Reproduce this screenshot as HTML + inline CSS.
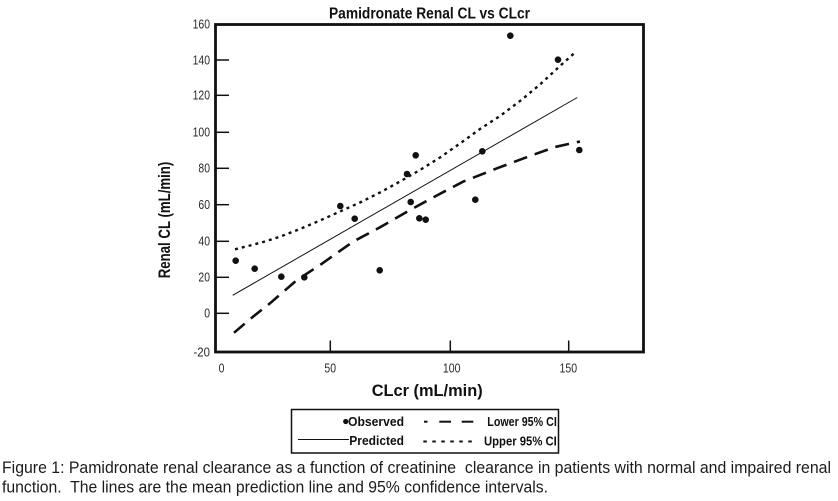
<!DOCTYPE html>
<html>
<head>
<meta charset="utf-8">
<style>
  html, body { margin:0; padding:0; background:#fff; }
  body { width:838px; height:501px; overflow:hidden; }
  svg { display:block; }
  text { font-family: "Liberation Sans", Arial, sans-serif; }
</style>
</head>
<body>
<svg width="838" height="501" viewBox="0 0 838 501" xmlns="http://www.w3.org/2000/svg">
  <rect x="0" y="0" width="838" height="501" fill="#fff"/>

  <!-- Title -->
  <text x="329" y="18.5" font-size="16" font-weight="bold" fill="#111" textLength="201" lengthAdjust="spacingAndGlyphs">Pamidronate Renal CL vs CLcr</text>

  <!-- Frame -->
  <rect x="215.5" y="24.5" width="428" height="327.5" fill="none" stroke="#111" stroke-width="2.8"/>

  <!-- Y ticks -->
  <g stroke="#111" stroke-width="1.5">
    <line x1="215" y1="24.5" x2="229" y2="24.5"/>
    <line x1="215" y1="60" x2="229" y2="60"/>
    <line x1="215" y1="95.3" x2="229" y2="95.3"/>
    <line x1="215" y1="132.3" x2="229" y2="132.3"/>
    <line x1="215" y1="168.3" x2="229" y2="168.3"/>
    <line x1="215" y1="204.7" x2="229" y2="204.7"/>
    <line x1="215" y1="241.3" x2="229" y2="241.3"/>
    <line x1="215" y1="277.3" x2="229" y2="277.3"/>
    <line x1="215" y1="313.3" x2="229" y2="313.3"/>
  </g>
  <!-- X ticks -->
  <g stroke="#111" stroke-width="1.5">
    <line x1="330.3" y1="340.5" x2="330.3" y2="352"/>
    <line x1="450.3" y1="340.5" x2="450.3" y2="352"/>
    <line x1="568.7" y1="340.5" x2="568.7" y2="352"/>
  </g>

  <!-- Y tick labels -->
  <g font-size="12.5" fill="#2a2a2a" text-anchor="end">
    <text x="210" y="28.6" textLength="17.4" lengthAdjust="spacingAndGlyphs">160</text>
    <text x="210" y="64.3" textLength="17.4" lengthAdjust="spacingAndGlyphs">140</text>
    <text x="210" y="99.6" textLength="17.4" lengthAdjust="spacingAndGlyphs">120</text>
    <text x="210" y="136.6" textLength="17.4" lengthAdjust="spacingAndGlyphs">100</text>
    <text x="210" y="172.6" textLength="11.6" lengthAdjust="spacingAndGlyphs">80</text>
    <text x="210" y="209" textLength="11.6" lengthAdjust="spacingAndGlyphs">60</text>
    <text x="210" y="245.6" textLength="11.6" lengthAdjust="spacingAndGlyphs">40</text>
    <text x="210" y="281.6" textLength="11.6" lengthAdjust="spacingAndGlyphs">20</text>
    <text x="210" y="317.6" textLength="5.8" lengthAdjust="spacingAndGlyphs">0</text>
    <text x="210" y="356.5" textLength="16.5" lengthAdjust="spacingAndGlyphs">-20</text>
  </g>

  <!-- X tick labels -->
  <g font-size="12.5" fill="#2a2a2a" text-anchor="middle">
    <text x="221.5" y="372.7" textLength="5.8" lengthAdjust="spacingAndGlyphs">0</text>
    <text x="330.2" y="372.7" textLength="11.6" lengthAdjust="spacingAndGlyphs">50</text>
    <text x="451.7" y="372.7" textLength="17.6" lengthAdjust="spacingAndGlyphs">100</text>
    <text x="568.3" y="372.7" textLength="17.6" lengthAdjust="spacingAndGlyphs">150</text>
  </g>

  <!-- Axis labels -->
  <text x="371.7" y="396" font-size="17" font-weight="bold" fill="#111" textLength="111" lengthAdjust="spacingAndGlyphs">CLcr (mL/min)</text>
  <text transform="translate(170,278.3) rotate(-90)" x="0" y="0" font-size="16.5" font-weight="bold" fill="#111" textLength="116.6" lengthAdjust="spacingAndGlyphs">Renal CL (mL/min)</text>

  <!-- Predicted line -->
  <line x1="232.7" y1="295.3" x2="577.3" y2="97.5" stroke="#111" stroke-width="1"/>

  <!-- Upper 95% CI (dotted) -->
  <polyline fill="none" stroke="#111" stroke-width="2.4" stroke-dasharray="3 4"
    points="235,249.3 250,245.5 265,241.5 280,236.7 300,229 320,220.5 340,211.5 360,202.5 380,192.5 400,181.5 420,170 440,157.5 460,143.5 480,129 500,116 520,101 540,84.5 560,66 575,52.5"/>

  <!-- Lower 95% CI (dashed) -->
  <polyline fill="none" stroke="#111" stroke-width="2.6" stroke-dasharray="14 8"
    points="234,332.7 253,316.7 270,303.3 297,280 320,265 353,241.7 380,227.3 407,211.7 433,197.5 463,181.7 497,168.3 530,156 555,147 580,141.5"/>

  <!-- Observed points -->
  <g fill="#111">
    <circle cx="235.7" cy="260.7" r="3.3"/>
    <circle cx="254.7" cy="268.7" r="3.3"/>
    <circle cx="281.3" cy="276.7" r="3.3"/>
    <circle cx="304.3" cy="277.3" r="3.3"/>
    <circle cx="340.3" cy="206" r="3.3"/>
    <circle cx="354.7" cy="218.7" r="3.3"/>
    <circle cx="379.7" cy="270.3" r="3.3"/>
    <circle cx="407" cy="174" r="3.3"/>
    <circle cx="415.7" cy="155.3" r="3.3"/>
    <circle cx="410.7" cy="202" r="3.3"/>
    <circle cx="419.3" cy="218.3" r="3.3"/>
    <circle cx="425.7" cy="219.7" r="3.3"/>
    <circle cx="510.3" cy="35.7" r="3.3"/>
    <circle cx="558" cy="59.7" r="3.3"/>
    <circle cx="482.3" cy="151.3" r="3.3"/>
    <circle cx="579.3" cy="150" r="3.3"/>
    <circle cx="475.3" cy="199.7" r="3.3"/>
  </g>

  <!-- Legend -->
  <rect x="291.5" y="409.5" width="267" height="43.5" fill="#fff" stroke="#111" stroke-width="1.5"/>
  <circle cx="345.7" cy="421.5" r="2.6" fill="#111"/>
  <text x="348" y="426" font-size="13" font-weight="bold" fill="#111" textLength="56" lengthAdjust="spacingAndGlyphs">Observed</text>
  <line x1="298" y1="439.5" x2="349" y2="439.5" stroke="#111" stroke-width="1"/>
  <text x="349.3" y="445" font-size="13" font-weight="bold" fill="#111" textLength="54.7" lengthAdjust="spacingAndGlyphs">Predicted</text>
  <g stroke="#111" stroke-width="2">
    <line x1="424" y1="421.7" x2="427.5" y2="421.7"/>
    <line x1="439.3" y1="421.7" x2="451" y2="421.7"/>
    <line x1="461.7" y1="421.7" x2="473.3" y2="421.7"/>
    <line x1="423.3" y1="441.5" x2="426.8" y2="441.5"/>
    <line x1="432.3" y1="441.5" x2="435.8" y2="441.5"/>
    <line x1="441.3" y1="441.5" x2="444.8" y2="441.5"/>
    <line x1="450.3" y1="441.5" x2="453.8" y2="441.5"/>
    <line x1="459.3" y1="441.5" x2="462.8" y2="441.5"/>
    <line x1="468.3" y1="441.5" x2="471.8" y2="441.5"/>
  </g>
  <text x="487.3" y="426" font-size="13" font-weight="bold" fill="#111" textLength="69.5" lengthAdjust="spacingAndGlyphs">Lower 95% CI</text>
  <text x="484" y="445.5" font-size="13" font-weight="bold" fill="#111" textLength="72.8" lengthAdjust="spacingAndGlyphs">Upper 95% CI</text>

  <!-- Caption -->
  <text x="2" y="473" font-size="17" fill="#1c1c1c" textLength="829" lengthAdjust="spacingAndGlyphs" xml:space="preserve">Figure 1: Pamidronate renal clearance as a function of creatinine  clearance in patients with normal and impaired renal</text>
  <text x="2" y="492.3" font-size="17" fill="#1c1c1c" textLength="546" lengthAdjust="spacingAndGlyphs" xml:space="preserve">function.  The lines are the mean prediction line and 95% confidence intervals.</text>
</svg>
</body>
</html>
